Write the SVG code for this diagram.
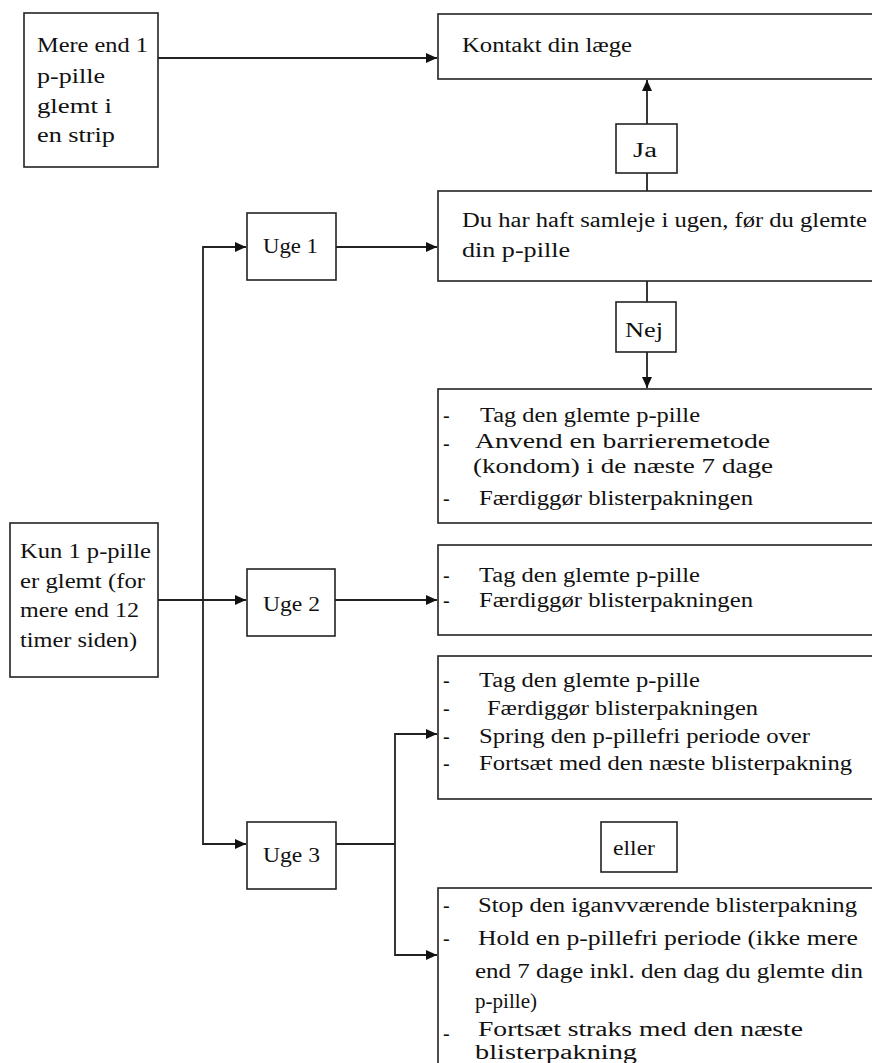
<svg xmlns="http://www.w3.org/2000/svg" width="872" height="1063" viewBox="0 0 872 1063">
<style>
.box{fill:#fff;stroke:#222;stroke-width:1.6}
.con{fill:none;stroke:#222;stroke-width:1.8}
text{font-family:"Liberation Serif","Times New Roman",serif;font-size:20px;fill:#111}
</style>
<defs>
<marker id="ah" markerUnits="userSpaceOnUse" markerWidth="12" markerHeight="10" refX="11" refY="5" orient="auto">
<path d="M0,0 L11,5 L0,10 Z" fill="#111"/>
</marker>
</defs>
<rect x="0" y="0" width="872" height="1063" fill="#fff"/>
<g id="connectors">
<path class="con" d="M158,58 H437" marker-end="url(#ah)"/>
<path class="con" d="M647,191 V80" marker-end="url(#ah)"/>
<path class="con" d="M647,281 V388" marker-end="url(#ah)"/>
<path class="con" d="M336,247 H437" marker-end="url(#ah)"/>
<path class="con" d="M158,600 H246" marker-end="url(#ah)"/>
<path class="con" d="M335,600 H437" marker-end="url(#ah)"/>
<path class="con" d="M203,600 V247 H246" marker-end="url(#ah)"/>
<path class="con" d="M203,600 V844 H246" marker-end="url(#ah)"/>
<path class="con" d="M336,844 H395"/>
<path class="con" d="M395,844 V734 H437" marker-end="url(#ah)"/>
<path class="con" d="M395,844 V955 H437" marker-end="url(#ah)"/>
</g>
<g id="box-mere">
<rect class="box" x="24" y="13" width="134" height="154"/>
<text x="37" y="52" textLength="111" lengthAdjust="spacingAndGlyphs">Mere end 1</text>
<text x="37" y="83" textLength="68" lengthAdjust="spacingAndGlyphs">p-pille</text>
<text x="37" y="113" textLength="75" lengthAdjust="spacingAndGlyphs">glemt i</text>
<text x="37" y="142" textLength="78" lengthAdjust="spacingAndGlyphs">en strip</text>
</g>
<g id="box-kontakt">
<rect class="box" x="438" y="14" width="442" height="65"/>
<text x="462" y="52" textLength="170" lengthAdjust="spacingAndGlyphs">Kontakt din læge</text>
</g>
<g id="label-ja">
<rect class="box" x="616" y="124" width="61" height="49"/>
<text x="633" y="157" textLength="24" lengthAdjust="spacingAndGlyphs">Ja</text>
</g>
<g id="box-samleje">
<rect class="box" x="438" y="191" width="442" height="90"/>
<text x="462" y="227" textLength="405" lengthAdjust="spacingAndGlyphs">Du har haft samleje i ugen, før du glemte</text>
<text x="462" y="257" textLength="108" lengthAdjust="spacingAndGlyphs">din  p-pille</text>
</g>
<g id="label-nej">
<rect class="box" x="616" y="302" width="60" height="50"/>
<text x="625" y="337" textLength="38" lengthAdjust="spacingAndGlyphs">Nej</text>
</g>
<g id="box-uge1-action">
<rect class="box" x="438" y="389" width="442" height="134"/>
<text x="443" y="422">-</text>
<text x="480" y="422" textLength="220" lengthAdjust="spacingAndGlyphs">Tag den glemte p-pille</text>
<text x="443" y="450">-</text>
<text x="475" y="448" textLength="295" lengthAdjust="spacingAndGlyphs">Anvend en barrieremetode</text>
<text x="473" y="473" textLength="300" lengthAdjust="spacingAndGlyphs">(kondom) i de næste 7 dage</text>
<text x="443" y="505">-</text>
<text x="479" y="505" textLength="274" lengthAdjust="spacingAndGlyphs">Færdiggør blisterpakningen</text>
</g>
<g id="box-kun">
<rect class="box" x="10" y="523" width="148" height="154"/>
<text x="20" y="558" textLength="131" lengthAdjust="spacingAndGlyphs">Kun 1 p-pille</text>
<text x="20" y="588" textLength="125" lengthAdjust="spacingAndGlyphs">er glemt (for</text>
<text x="20" y="617" textLength="119" lengthAdjust="spacingAndGlyphs">mere end 12</text>
<text x="20" y="647" textLength="117" lengthAdjust="spacingAndGlyphs">timer siden)</text>
</g>
<g id="box-uge1">
<rect class="box" x="247" y="213" width="89" height="67"/>
<text x="263" y="253" textLength="55" lengthAdjust="spacingAndGlyphs">Uge 1</text>
</g>
<g id="box-uge2">
<rect class="box" x="247" y="569" width="88" height="67"/>
<text x="263" y="611" textLength="57" lengthAdjust="spacingAndGlyphs">Uge 2</text>
</g>
<g id="box-uge3">
<rect class="box" x="247" y="822" width="89" height="67"/>
<text x="263" y="862" textLength="57" lengthAdjust="spacingAndGlyphs">Uge 3</text>
</g>
<g id="box-uge2-action">
<rect class="box" x="438" y="545" width="442" height="90"/>
<text x="443" y="582">-</text>
<text x="479" y="582" textLength="221" lengthAdjust="spacingAndGlyphs">Tag den glemte p-pille</text>
<text x="443" y="607">-</text>
<text x="479" y="607" textLength="274" lengthAdjust="spacingAndGlyphs">Færdiggør blisterpakningen</text>
</g>
<g id="box-uge3-action-a">
<rect class="box" x="438" y="656" width="442" height="143"/>
<text x="443" y="687">-</text>
<text x="479" y="687" textLength="221" lengthAdjust="spacingAndGlyphs">Tag den glemte p-pille</text>
<text x="443" y="715">-</text>
<text x="487" y="715" textLength="271" lengthAdjust="spacingAndGlyphs">Færdiggør blisterpakningen</text>
<text x="443" y="743">-</text>
<text x="479" y="743" textLength="331" lengthAdjust="spacingAndGlyphs">Spring den p-pillefri periode over</text>
<text x="443" y="770">-</text>
<text x="479" y="770" textLength="373" lengthAdjust="spacingAndGlyphs">Fortsæt med den næste blisterpakning</text>
</g>
<g id="label-eller">
<rect class="box" x="601" y="822" width="76" height="50"/>
<text x="613" y="855" textLength="42" lengthAdjust="spacingAndGlyphs">eller</text>
</g>
<g id="box-uge3-action-b">
<rect class="box" x="438" y="888" width="442" height="200"/>
<text x="443" y="912">-</text>
<text x="478" y="912" textLength="379" lengthAdjust="spacingAndGlyphs">Stop den iganvværende blisterpakning</text>
<text x="443" y="945">-</text>
<text x="478" y="945" textLength="380" lengthAdjust="spacingAndGlyphs">Hold en p-pillefri periode (ikke mere</text>
<text x="475" y="978" textLength="388" lengthAdjust="spacingAndGlyphs">end 7 dage inkl. den dag du glemte din</text>
<text x="475" y="1008" textLength="62" lengthAdjust="spacingAndGlyphs">p-pille)</text>
<text x="443" y="1040">-</text>
<text x="478" y="1036" textLength="325" lengthAdjust="spacingAndGlyphs">Fortsæt straks med den næste</text>
<text x="475" y="1059" textLength="162" lengthAdjust="spacingAndGlyphs">blisterpakning</text>
</g>
</svg>
